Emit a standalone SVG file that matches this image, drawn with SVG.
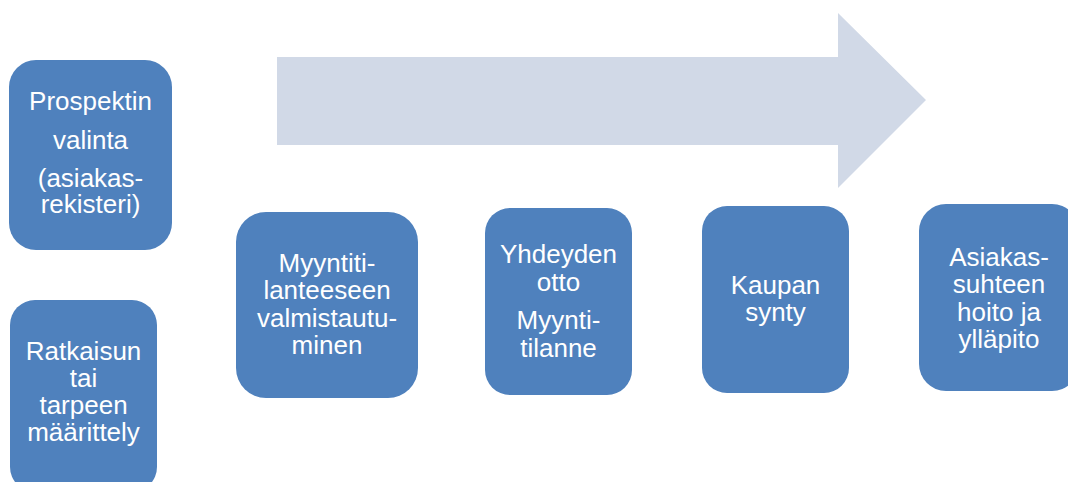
<svg xmlns="http://www.w3.org/2000/svg" width="1068" height="482" viewBox="0 0 1068 482">
  <style>
    .box { fill: #4F81BD; }
    .lbl { font-family: "Liberation Sans", Arial, sans-serif; font-size: 26px; fill: #FFFFFF; text-anchor: middle; }
  </style>
  <rect width="1068" height="482" fill="#FFFFFF"/>

  <!-- background process arrow -->
  <g id="process-arrow">
    <polygon points="277,57 838,57 838,13 926,100 838,188 838,145 277,145" fill="#D1D9E7"/>
  </g>

  <g id="connectors"></g>

  <g id="prospektin-valinta">
    <rect class="box" x="9" y="60" width="163" height="190" rx="27"/>
    <text class="lbl" x="90.5" y="110">Prospektin</text>
    <text class="lbl" x="90.5" y="149">valinta</text>
    <text class="lbl" x="90.5" y="187">(asiakas-</text>
    <text class="lbl" x="90.5" y="213">rekisteri)</text>
  </g>

  <g id="ratkaisun-maarittely">
    <rect class="box" x="10" y="300" width="147" height="192" rx="25"/>
    <text class="lbl" x="83.5" y="360">Ratkaisun</text>
    <text class="lbl" x="83.5" y="387">tai</text>
    <text class="lbl" x="83.5" y="414">tarpeen</text>
    <text class="lbl" x="83.5" y="441">määrittely</text>
  </g>

  <g id="valmistautuminen">
    <rect class="box" x="236" y="212" width="182" height="186" rx="30"/>
    <text class="lbl" x="327" y="272">Myyntiti-</text>
    <text class="lbl" x="327" y="299">lanteeseen</text>
    <text class="lbl" x="327" y="327">valmistautu-</text>
    <text class="lbl" x="327" y="354">minen</text>
  </g>

  <g id="yhdeydenotto">
    <rect class="box" x="485" y="208" width="147" height="187" rx="25"/>
    <text class="lbl" x="558.5" y="263">Yhdeyden</text>
    <text class="lbl" x="558.5" y="291">otto</text>
    <text class="lbl" x="558.5" y="329">Myynti-</text>
    <text class="lbl" x="558.5" y="357">tilanne</text>
  </g>

  <g id="kaupan-synty">
    <rect class="box" x="702" y="206" width="147" height="187" rx="25"/>
    <text class="lbl" x="775.5" y="294">Kaupan</text>
    <text class="lbl" x="775.5" y="321">synty</text>
  </g>

  <g id="asiakassuhde">
    <rect class="box" x="919" y="204" width="160" height="187" rx="27"/>
    <text class="lbl" x="999" y="266">Asiakas-</text>
    <text class="lbl" x="999" y="293">suhteen</text>
    <text class="lbl" x="999" y="321">hoito ja</text>
    <text class="lbl" x="999" y="348">ylläpito</text>
  </g>
</svg>
